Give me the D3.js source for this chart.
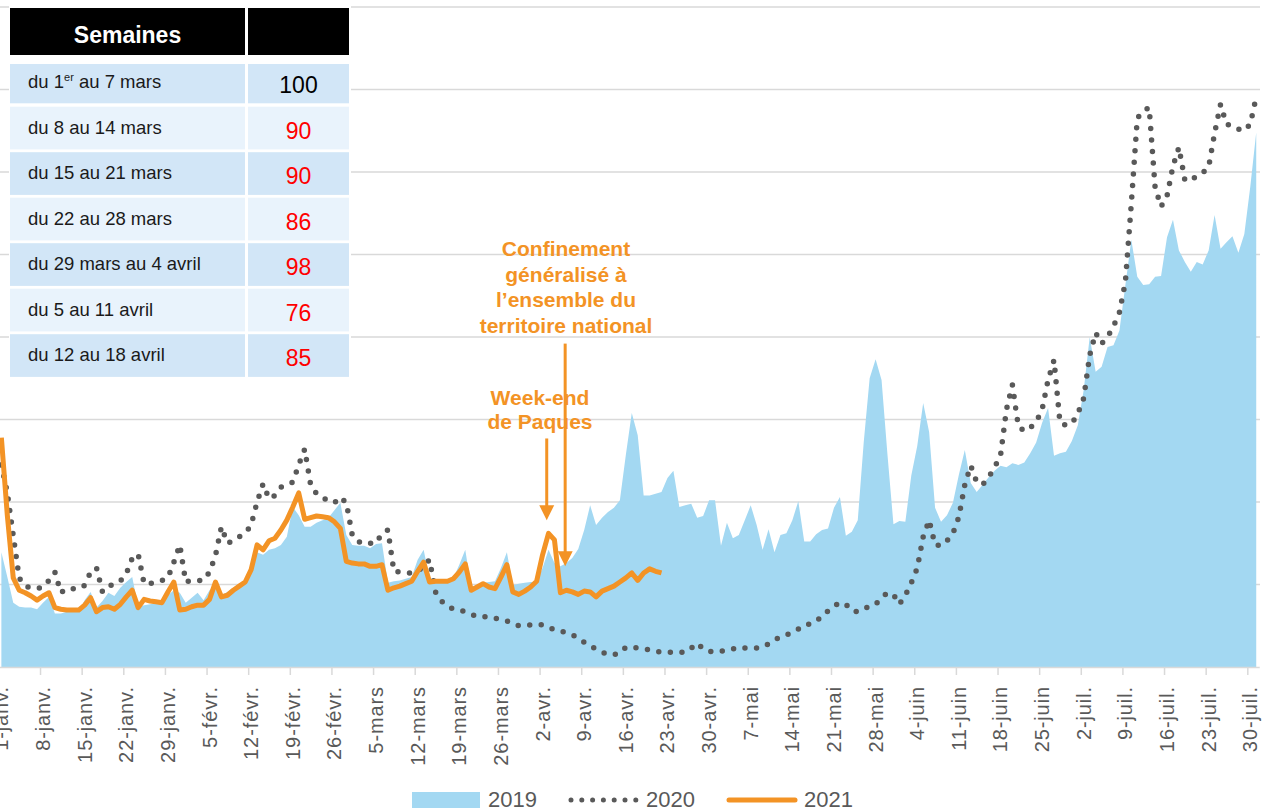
<!DOCTYPE html>
<html lang="fr">
<head>
<meta charset="UTF-8">
<title>Semaines</title>
<script src="https://cdn.jsdelivr.net/npm/d3@7"></script>
<style>
  body { margin: 0; background: #fff; }
  svg { display: block; font-family: "Century Gothic", "Liberation Sans", Arial, sans-serif; }
</style>
</head>
<body>
<script>
// one value per day, index 0 = 1er janvier
var weekLabels = ["1-janv.", "8-janv.", "15-janv.", "22-janv.", "29-janv.", "5-févr.", "12-févr.", "19-févr.", "26-févr.",
  "5-mars", "12-mars", "19-mars", "26-mars", "2-avr.", "9-avr.", "16-avr.", "23-avr.", "30-avr.", "7-mai", "14-mai",
  "21-mai", "28-mai", "4-juin", "11-juin", "18-juin", "25-juin", "2-juil.", "9-juil.", "16-juil.", "23-juil.", "30-juil."];

var values2019 = [
  139, 109, 78, 73, 72, 72, 70, 78, 85, 65, 65, 67, 67, 67, 81, 91, 72, 80, 90, 86, 96, 103, 109, 73, 75, 76, 78, 79,
  87, 93, 90, 78, 84, 90, 81, 93, 99, 87, 91, 96, 101, 105, 124, 139, 136, 142, 144, 148, 158, 194, 184, 170, 170, 175,
  178, 181, 190, 199, 160, 148, 147, 147, 144, 149, 150, 102, 104, 105, 107, 109, 130, 142, 108, 105, 105, 105, 108, 124,
  142, 97, 99, 102, 103, 104, 120, 139, 99, 101, 102, 103, 103, 120, 142, 126, 122, 126, 132, 143, 166, 196, 172, 181,
  188, 193, 202, 257, 308, 281, 208, 208, 210, 212, 229, 238, 194, 196, 198, 181, 183, 202, 202, 147, 175, 156, 160, 178,
  196, 172, 142, 167, 139, 160, 162, 178, 201, 152, 152, 161, 166, 168, 193, 206, 159, 164, 178, 272, 350, 373, 348, 257,
  173, 177, 176, 232, 268, 320, 285, 193, 176, 184, 199, 233, 263, 223, 212, 221, 230, 238, 244, 242, 247, 245, 248, 259,
  272, 296, 314, 256, 259, 261, 274, 293, 336, 400, 358, 364, 388, 390, 408, 463, 518, 473, 463, 464, 473, 474, 521, 542,
  505, 491, 479, 491, 488, 505, 548, 507, 515, 522, 502, 525, 582, 648];

var values2020 = [
  245, 211, 159, 108, 98, 96, 95, 97, 105, 115, 90, 95, 95, 95, 99, 115, 120, 91, 97, 102, 104, 113, 132, 137, 101, 101,
  103, 105, 108, 127, 148, 103, 105, 105, 105, 115, 135, 170, 150, 153, 158, 162, 172, 200, 222, 204, 208, 218, 221, 224,
  245, 264, 221, 210, 205, 202, 199, 206, 199, 160, 152, 149, 150, 150, 162, 166, 116, 115, 114, 114, 116, 122, 130, 91,
  80, 74, 70, 69, 67, 64, 61, 61, 61, 59, 58, 56, 52, 50, 50, 51, 52, 51, 48, 45, 44, 41, 39, 35, 30, 25, 22, 18, 15, 15,
  17, 24, 24, 23, 22, 21, 19, 18, 18, 18, 18, 18, 23, 29, 22, 19, 18, 19, 21, 22, 24, 23, 23, 23, 24, 28, 33, 36, 39, 42,
  46, 51, 52, 55, 62, 68, 74, 78, 76, 68, 67, 70, 74, 76, 84, 90, 88, 76, 87, 102, 120, 158, 178, 148, 147, 153, 162, 182,
  221, 244, 224, 221, 230, 242, 256, 312, 342, 292, 286, 290, 297, 312, 348, 372, 296, 293, 295, 307, 326, 378, 405, 392,
  400, 413, 430, 467, 562, 665, 674, 678, 581, 558, 571, 607, 630, 590, 590, 595, 599, 606, 647, 682, 658, 656, 652, 650,
  658, 691];

var values2021 = [
  278, 184, 108, 93, 90, 86, 81, 86, 90, 72, 70, 69, 69, 69, 75, 84, 67, 72, 73, 70, 76, 85, 93, 72, 82, 80, 79, 78, 91,
  103, 69, 70, 73, 75, 75, 82, 103, 85, 87, 93, 98, 103, 118, 148, 142, 153, 156, 166, 178, 194, 211, 179, 181, 183, 182,
  181, 176, 168, 128, 126, 125, 125, 122, 122, 124, 93, 96, 98, 101, 104, 116, 127, 103, 104, 104, 104, 107, 115, 125, 93,
  97, 101, 97, 95, 109, 124, 91, 88, 92, 97, 104, 136, 162, 154, 90, 93, 91, 88, 92, 91, 85, 92, 95, 98, 103, 108, 114,
  105, 114, 119, 116, 114];

var seriesNames = ["2019", "2020", "2021"];

var tableTitle = "Semaines";
var tableWeeks = ["du 1er au 7 mars", "du 8 au 14 mars", "du 15 au 21 mars", "du 22 au 28 mars",
  "du 29 mars au 4 avril", "du 5 au 11 avril", "du 12 au 18 avril"];
var tableValues = [100, 90, 90, 86, 98, 76, 85];

var easterLabel = ["Week-end", "de Paques"];
var lockdownLabel = ["Confinement", "généralisé à", "l\u2019ensemble du", "territoire national"];

var W = 1265, H = 812;
var nDays = 212;
var blue = "#a3d8f2", grey = "#595959", orange = "#f39325";

var svg = d3.select("body").append("svg")
    .attr("width", W)
    .attr("height", H);

var x = d3.scaleLinear().domain([0, nDays]).range([-1.6, 1259.2]);
var y = d3.scaleLinear().domain([0, 800]).range([667, 7]);

// gridlines
svg.append("g").selectAll("line")
    .data(d3.range(100, 801, 100))
    .join("line")
    .attr("x1", 0)
    .attr("x2", 1260)
    .attr("y1", function (d) { return y(d); })
    .attr("y2", function (d) { return y(d); })
    .style("stroke", "#d9d9d9")
    .style("stroke-width", 1.5);

// 2019 area
var area = d3.area()
    .x(function (d, i) { return x(i + 0.5); })
    .y0(y(0))
    .y1(function (d) { return y(d); });

svg.append("path")
    .datum(values2019)
    .attr("d", area)
    .style("fill", blue);

var line = d3.line()
    .x(function (d, i) { return x(i + 0.5); })
    .y(function (d) { return y(d); });

// 2020 dotted
svg.append("path")
    .datum(values2020)
    .attr("d", line)
    .style("fill", "none")
    .style("stroke", grey)
    .style("stroke-width", 5.5)
    .style("stroke-linecap", "round")
    .style("stroke-dasharray", "0 11.6");

// 2021
svg.append("path")
    .datum(values2021)
    .attr("d", line)
    .style("fill", "none")
    .style("stroke", orange)
    .style("stroke-width", 5)
    .style("stroke-linejoin", "round");

// x axis
var axis = svg.append("g")
    .attr("transform", "translate(0," + y(0) + ")")
    .call(d3.axisBottom(x).tickValues(d3.range(7, nDays, 7)).tickSize(8).tickSizeOuter(0).tickFormat(""));
axis.selectAll("path, line").style("stroke", "#d9d9d9").style("stroke-width", 1.5);

svg.append("g").selectAll("text")
    .data(weekLabels)
    .join("text")
    .attr("transform", function (d, i) { return "translate(" + x(i * 7 + 0.5) + ",686) rotate(-90)"; })
    .attr("dy", "0.35em")
    .attr("text-anchor", "end")
    .style("font-size", "20px")
    .style("letter-spacing", "0.9px")
    .style("fill", grey)
    .text(function (d) { return d; });

// annotations
function arrow(day, top, tip) {
    var ax = x(day);
    svg.append("line")
        .attr("x1", ax).attr("x2", ax)
        .attr("y1", y(top)).attr("y2", y(tip) - 12)
        .style("stroke", orange)
        .style("stroke-width", 3);
    svg.append("path")
        .attr("d", "M" + (ax - 7.5) + "," + (y(tip) - 15) + "L" + (ax + 7.5) + "," + (y(tip) - 15) + "L" + ax + "," + y(tip) + "Z")
        .style("fill", orange);
}
arrow(92.2, 277, 178);
arrow(95.3, 392, 122);

function note(lines, cx, y0, step) {
    svg.append("g").selectAll("text")
        .data(lines)
        .join("text")
        .attr("x", cx)
        .attr("y", function (d, i) { return y0 + i * step; })
        .attr("text-anchor", "middle")
        .style("font-family", "'Liberation Sans', Arial, sans-serif")
        .style("font-weight", "bold")
        .style("font-size", "21px")
        .style("fill", orange)
        .text(function (d) { return d; });
}
note(lockdownLabel, 566, 256, 25.5);
note(easterLabel, 540, 405, 24);

// table
var tab = svg.append("g");
tab.append("rect").attr("x", 9).attr("y", 4).attr("width", 342).attr("height", 377).style("fill", "#fff");
tab.append("rect").attr("x", 10).attr("y", 8).attr("width", 235).attr("height", 47).style("fill", "#000");
tab.append("rect").attr("x", 248).attr("y", 8).attr("width", 101).attr("height", 47).style("fill", "#000");
tab.append("text")
    .attr("x", 127.5).attr("y", 43)
    .attr("text-anchor", "middle")
    .style("font-family", "'Liberation Sans', Arial, sans-serif")
    .style("font-weight", "bold")
    .style("font-size", "23px")
    .style("fill", "#fff")
    .text(tableTitle);

var rowTop = function (i) { return i === 0 ? 64 : 106.7 + 45.5 * (i - 1); };
var rowBottom = function (i) { return i === 0 ? 103.3 : rowTop(i) + 42.7; };

var rows = tab.selectAll("g.row")
    .data(tableWeeks)
    .join("g")
    .attr("class", "row");
rows.append("rect")
    .attr("x", 10).attr("width", 235)
    .attr("y", function (d, i) { return rowTop(i); })
    .attr("height", function (d, i) { return rowBottom(i) - rowTop(i); })
    .style("fill", function (d, i) { return i % 2 ? "#e9f3fc" : "#d2e6f7"; });
rows.append("rect")
    .attr("x", 248).attr("width", 101)
    .attr("y", function (d, i) { return rowTop(i); })
    .attr("height", function (d, i) { return rowBottom(i) - rowTop(i); })
    .style("fill", function (d, i) { return i % 2 ? "#e9f3fc" : "#d2e6f7"; });
rows.append("text")
    .attr("x", 28)
    .attr("y", function (d, i) { return rowBottom(i) - 15.5; })
    .style("font-size", "18.5px")
    .style("fill", "#1a1a1a")
    .each(function (d) {
        var t = d3.select(this);
        var m = d.match(/^(.*\d)(er)( .*)$/);
        if (m) {
            t.append("tspan").text(m[1]);
            t.append("tspan").attr("dy", -7).style("font-size", "11px").text(m[2]);
            t.append("tspan").attr("dy", 7).text(m[3]);
        } else {
            t.text(d);
        }
    });
tab.selectAll("text.val")
    .data(tableValues)
    .join("text")
    .attr("class", "val")
    .attr("x", 298.5)
    .attr("y", function (d, i) { return rowBottom(i) - 10.5; })
    .attr("text-anchor", "middle")
    .style("font-size", "23px")
    .style("fill", function (d, i) { return i === 0 ? "#000" : "#ff0000"; })
    .text(function (d) { return d; });

// legend
var leg = svg.append("g").style("font-size", "22px").style("fill", grey);
leg.append("rect").attr("x", 412).attr("y", 792).attr("width", 68).attr("height", 16).style("fill", blue);
leg.append("line").attr("x1", 571).attr("x2", 636).attr("y1", 800).attr("y2", 800)
    .style("stroke", grey).style("stroke-width", 5).style("stroke-linecap", "round").style("stroke-dasharray", "0 10.8");
leg.append("line").attr("x1", 729).attr("x2", 795).attr("y1", 800).attr("y2", 800)
    .style("stroke", orange).style("stroke-width", 5).style("stroke-linecap", "round");
leg.selectAll("text")
    .data(seriesNames)
    .join("text")
    .attr("x", function (d, i) { return [488, 646, 804][i]; })
    .attr("y", 807)
    .text(function (d) { return d; });
</script>
</body>
</html>
